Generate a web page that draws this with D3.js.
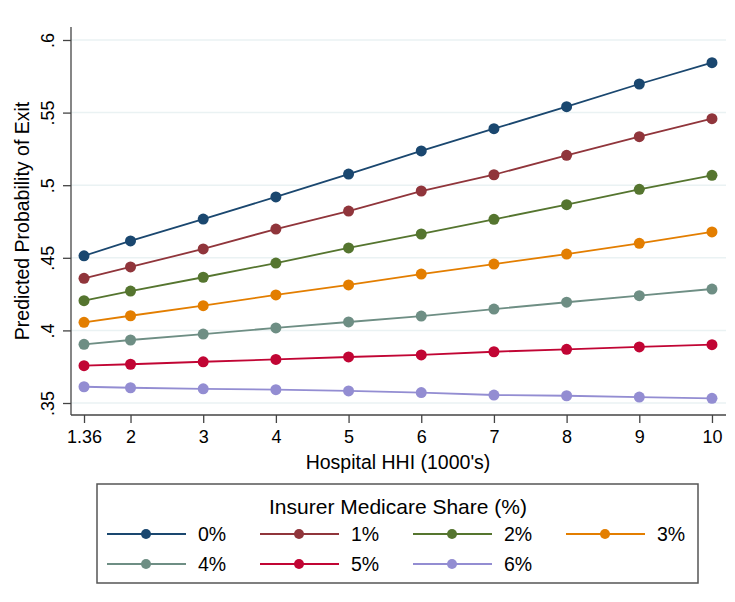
<!DOCTYPE html>
<html>
<head>
<meta charset="utf-8">
<script src="https://cdn.jsdelivr.net/npm/d3@7"></script>
<style>
  body { margin: 0; background: #fff; }
  text { font-family: "Liberation Sans", Arial, Helvetica, sans-serif; fill: #000; }
</style>
</head>
<body>
<svg id="chart" width="735" height="602"></svg>
<script>
// Hospital HHI (1000's)
const hhi = [1.36, 2, 3, 4, 5, 6, 7, 8, 9, 10];
const xTicks = [1.36, 2, 3, 4, 5, 6, 7, 8, 9, 10];
const yTicks = [0.35, 0.4, 0.45, 0.5, 0.55, 0.6];

const shareLabels = ['0%', '1%', '2%', '3%', '4%', '5%', '6%'];
const share0 = [0.4514, 0.4616, 0.4767, 0.4919, 0.5077, 0.5236, 0.5389, 0.5541, 0.5697, 0.5844];
const share1 = [0.4359, 0.4437, 0.4561, 0.4698, 0.4822, 0.4960, 0.5072, 0.5206, 0.5334, 0.5458];
const share2 = [0.4205, 0.4271, 0.4366, 0.4464, 0.4568, 0.4664, 0.4765, 0.4866, 0.4972, 0.5068];
const share3 = [0.4056, 0.4101, 0.4170, 0.4244, 0.4313, 0.4388, 0.4457, 0.4526, 0.4600, 0.4678];
const share4 = [0.3904, 0.3934, 0.3975, 0.4017, 0.4058, 0.4099, 0.4147, 0.4194, 0.4239, 0.4285];
const share5 = [0.3757, 0.3767, 0.3784, 0.3800, 0.3817, 0.3831, 0.3853, 0.3870, 0.3886, 0.3902];
const share6 = [0.3612, 0.3605, 0.3598, 0.3592, 0.3583, 0.3572, 0.3555, 0.3550, 0.3541, 0.3532];
const colors = ['#1a476f', '#90353b', '#55752f', '#e37e00', '#6e8e84', '#c10534', '#938dd2'];

const series = [share0, share1, share2, share3, share4, share5, share6].map((vals, i) => ({
  label: shareLabels[i],
  color: colors[i],
  points: vals.map((v, j) => [hhi[j], v])
}));

const svg = d3.select('#chart');
const plot = { left: 71, right: 726, top: 27, bottom: 415 };

const x = d3.scaleLinear().domain([1.181, 10.193]).range([plot.left, plot.right]);
const y = d3.scaleLinear().domain([0.34174, 0.60895]).range([plot.bottom, plot.top]);

// gridlines
svg.append('g')
  .selectAll('line')
  .data(yTicks)
  .join('line')
  .attr('x1', plot.left)
  .attr('x2', plot.right)
  .attr('y1', d => y(d))
  .attr('y2', d => y(d))
  .attr('stroke', '#eaf2f3')
  .attr('stroke-width', 1.5);

// y axis
const yAxis = svg.append('g')
  .attr('transform', `translate(${plot.left},0)`)
  .call(d3.axisLeft(y).tickValues(yTicks).tickSize(8).tickPadding(0)
    .tickFormat(d => d3.format('.2f')(d).replace(/^0/, '').replace(/0$/, '')));
yAxis.select('.domain').attr('d', `M0,${plot.top}V${plot.bottom}`);
yAxis.selectAll('line').attr('stroke', '#444').attr('stroke-width', 1.3);
yAxis.select('.domain').attr('stroke', '#444').attr('stroke-width', 1.3);
yAxis.selectAll('text')
  .attr('font-size', 18)
  .attr('x', 0)
  .attr('dy', 0)
  .attr('text-anchor', 'middle')
  .attr('transform', 'translate(-17,0) rotate(-90)')
  .attr('dominant-baseline', 'auto')
  .attr('y', 0);

// x axis
const xAxis = svg.append('g')
  .attr('transform', `translate(0,${plot.bottom})`)
  .call(d3.axisBottom(x).tickValues(xTicks).tickSize(8).tickPadding(7)
    .tickFormat(d => String(d)));
xAxis.select('.domain').attr('d', `M${plot.left},0H${plot.right}`);
xAxis.selectAll('line').attr('stroke', '#444').attr('stroke-width', 1.3);
xAxis.select('.domain').attr('stroke', '#444').attr('stroke-width', 1.3);
xAxis.selectAll('text').attr('font-size', 18);

// axis titles
svg.append('text')
  .attr('x', 398)
  .attr('y', 469)
  .attr('text-anchor', 'middle')
  .attr('font-size', 19.5)
  .text("Hospital HHI (1000's)");

svg.append('text')
  .attr('transform', `translate(29,${(plot.top + plot.bottom) / 2}) rotate(-90)`)
  .attr('text-anchor', 'middle')
  .attr('font-size', 19.5)
  .text('Predicted Probability of Exit');

// lines and markers
const line = d3.line().x(d => x(d[0])).y(d => y(d[1]));
const groups = svg.append('g')
  .selectAll('g')
  .data(series)
  .join('g');

groups.append('path')
  .attr('d', d => line(d.points))
  .attr('fill', 'none')
  .attr('stroke', d => d.color)
  .attr('stroke-width', 1.8);

groups.selectAll('circle')
  .data(d => d.points.map(p => ({ p, color: d.color })))
  .join('circle')
  .attr('cx', d => x(d.p[0]))
  .attr('cy', d => y(d.p[1]))
  .attr('r', 5.5)
  .attr('fill', d => d.color);

// legend
const legend = svg.append('g');
legend.append('rect')
  .attr('x', 97)
  .attr('y', 484)
  .attr('width', 601)
  .attr('height', 99)
  .attr('fill', '#fff')
  .attr('stroke', '#555')
  .attr('stroke-width', 1.5);

legend.append('text')
  .attr('x', 398)
  .attr('y', 514)
  .attr('text-anchor', 'middle')
  .attr('font-size', 21)
  .text('Insurer Medicare Share (%)');

const items = legend.selectAll('g.item')
  .data(series)
  .join('g')
  .attr('class', 'item')
  .attr('transform', (d, i) => `translate(${107 + (i % 4) * 153},${534 + Math.floor(i / 4) * 30})`);

items.append('line')
  .attr('x1', 0)
  .attr('x2', 79)
  .attr('stroke', d => d.color)
  .attr('stroke-width', 1.8);

items.append('circle')
  .attr('cx', 39)
  .attr('r', 5)
  .attr('fill', d => d.color);

items.append('text')
  .attr('x', 91)
  .attr('dy', '0.35em')
  .attr('font-size', 19.5)
  .text(d => d.label);
</script>
</body>
</html>
